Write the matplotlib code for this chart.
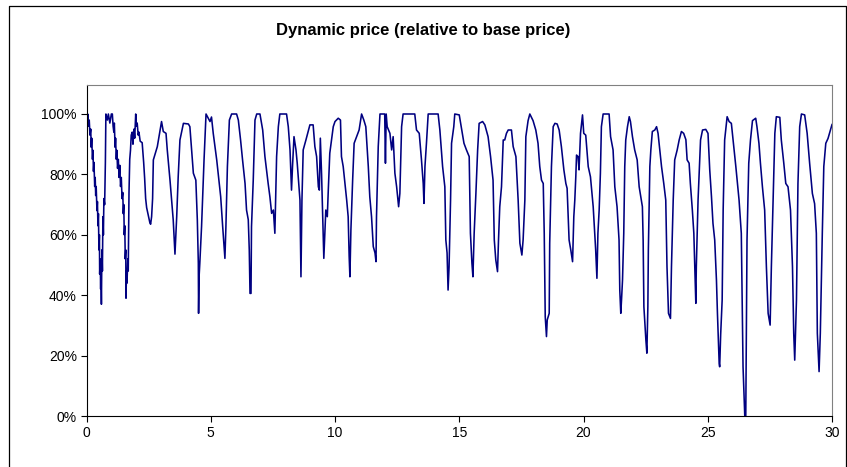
"""Dynamic price relative to base price over 30 days, Excel-style line chart.

Produces out.png in the current directory.
"""

import numpy as np
import matplotlib.pyplot as plt
from matplotlib.ticker import PercentFormatter

plt.rcParams["font.family"] = ["Liberation Sans", "DejaVu Sans"]

# values, in blocks of five days (price in % of base)
days_0_5 = [0.00, 0.03, 0.05, 0.08, 0.11, 0.14, 0.17, 0.19, 0.21, 0.24, 0.26, 0.28,
            0.30, 0.33, 0.35, 0.37, 0.39, 0.42, 0.44, 0.46, 0.48, 0.50, 0.52, 0.53,
            0.55, 0.57, 0.58, 0.60, 0.62, 0.64, 0.66, 0.68, 0.70, 0.73, 0.76, 0.78,
            0.84, 0.88, 0.94, 1.00, 1.04, 1.07, 1.10, 1.12, 1.15, 1.17, 1.20, 1.22,
            1.25, 1.28, 1.31, 1.34, 1.37, 1.40, 1.43, 1.46, 1.48, 1.50, 1.52, 1.54,
            1.56, 1.58, 1.59, 1.61, 1.63, 1.66, 1.68, 1.71, 1.74, 1.77, 1.80, 1.84,
            1.87, 1.91, 1.94, 1.98, 2.01, 2.04, 2.08, 2.11, 2.16, 2.24, 2.30, 2.34,
            2.38, 2.42, 2.51, 2.55, 2.58, 2.62, 2.66, 2.69, 2.85, 3.02, 3.09, 3.20,
            3.25, 3.36, 3.49, 3.56, 3.63, 3.69, 3.76, 3.90, 4.10, 4.16, 4.30, 4.40,
            4.46, 4.50, 4.51, 4.53, 4.56, 4.63, 4.73, 4.81, 4.97]
price_0_5 = [100, 97, 100, 96, 98, 93, 95, 89, 92, 85, 88, 81,
             84, 76, 79, 73, 76, 68, 71, 63, 67, 55, 60, 47,
             52, 42, 48, 37, 55, 48, 66, 60, 72, 70, 84, 100,
             98, 100, 97, 100, 100, 96, 94, 97, 89, 92, 85, 88,
             82, 85, 79, 83, 76, 79, 72, 74, 67, 70, 60, 63,
             52, 55, 39, 48, 44, 52, 48, 74, 85, 88, 93, 94,
             90, 95, 92, 100, 96, 97, 93, 94, 91, 90.5, 84, 78.7,
             72, 69, 65.6, 64, 63.5, 66, 72, 84.8, 89.2, 97.5, 94.2, 93.6,
             88.1, 78.1, 64.9, 53.6, 66, 79.2, 91.4, 96.9, 96.7, 95.8, 80.4, 78.1,
             64.9, 50.6, 34, 46, 50.6, 62.7, 84.8, 100, 97.5]

days_5_10 = [5.03, 5.10, 5.24, 5.40, 5.48, 5.57, 5.61, 5.67, 5.75, 5.84, 6.04, 6.11,
             6.20, 6.28, 6.38, 6.44, 6.51, 6.55, 6.58, 6.62, 6.64, 6.71, 6.78, 6.85,
             6.98, 7.09, 7.18, 7.31, 7.38, 7.45, 7.52, 7.58, 7.65, 7.72, 7.78, 8.05,
             8.12, 8.19, 8.25, 8.29, 8.35, 8.43, 8.48, 8.59, 8.63, 8.67, 8.72, 8.83,
             8.99, 9.12, 9.19, 9.26, 9.33, 9.37, 9.41, 9.46, 9.53, 9.55, 9.63, 9.69,
             9.73, 9.79, 9.86, 9.93]
price_5_10 = [99, 93.6, 84.8, 72.6, 62.7, 52.2, 62.7, 82.6, 98, 100, 100, 98,
              91.4, 84.8, 77, 68.2, 65, 55, 40.6, 40.6, 62.7, 78.1, 98, 100,
              100, 94.7, 85.9, 77, 72.6, 67.1, 68.2, 60.5, 85.9, 95.8, 100, 100,
              95.8, 88.1, 74.8, 82.6, 92.5, 88.1, 83.7, 71.5, 46.1, 71.5, 88.1, 91.4,
              96.4, 96.4, 89.2, 85.9, 75.9, 74.8, 92, 80, 58.3, 52.2, 68.2, 66,
              74.8, 87, 91.4, 95.8]

days_10_15 = [10.00, 10.13, 10.22, 10.26, 10.33, 10.40, 10.47, 10.53, 10.57, 10.60,
              10.64, 10.71, 10.77, 10.87, 10.97, 11.07, 11.16, 11.24, 11.34, 11.40,
              11.47, 11.54, 11.61, 11.65, 11.67, 11.74, 11.81, 12.00, 12.03, 12.06,
              12.10, 12.21, 12.28, 12.34, 12.41, 12.48, 12.56, 12.61, 12.68, 12.74,
              13.21, 13.28, 13.39, 13.48, 13.55, 13.58, 13.62, 13.68, 13.75, 14.15,
              14.22, 14.33, 14.42, 14.46, 14.51, 14.55, 14.59, 14.65, 14.69, 14.78,
              14.82]
price_10_15 = [97.5, 98.6, 98, 85.9, 82.6, 77, 71.5, 66, 52.8, 46.1,
               61.6, 78.1, 90.3, 92.5, 94.7, 100, 98, 95.8, 82.6, 72.6,
               66, 56.1, 54, 51.1, 66, 89.2, 100, 100, 83.7, 100,
               95.8, 93.6, 88.1, 92.5, 80.4, 75.9, 69.3, 73.7, 95.8, 100,
               100, 94.7, 93.6, 84.8, 77, 70.4, 82.6, 90.3, 100, 100,
               94.7, 82.6, 75.9, 58.3, 54, 41.7, 49.4, 71.5, 90.3, 95.8,
               100]

days_15_20 = [15.00, 15.09, 15.19, 15.29, 15.40, 15.45, 15.51, 15.55, 15.60, 15.67,
              15.74, 15.80, 15.94, 16.03, 16.16, 16.26, 16.36, 16.41, 16.47, 16.54,
              16.58, 16.63, 16.70, 16.77, 16.83, 16.90, 16.97, 17.10, 17.17, 17.28,
              17.37, 17.44, 17.52, 17.57, 17.64, 17.68, 17.77, 17.84, 17.97, 18.08,
              18.17, 18.24, 18.31, 18.38, 18.42, 18.46, 18.51, 18.54, 18.62, 18.64,
              18.71, 18.78, 18.85, 18.94, 19.02, 19.11, 19.21, 19.29, 19.34, 19.38,
              19.42, 19.49, 19.56, 19.61, 19.65, 19.69, 19.72, 19.78, 19.82, 19.88,
              19.96]
price_15_20 = [99.7, 95.3, 90.3, 88.1, 85.9, 60.5, 50.6, 46.1, 60.5, 73.7,
               88.1, 96.9, 97.5, 96.4, 92.5, 85.9, 78.1, 58.3, 51.7, 47.8,
               58.3, 69.3, 75.9, 91.4, 91.4, 93.6, 94.7, 94.7, 89.2, 85.9,
               71.5, 57.2, 53.3, 58.3, 71.5, 92.5, 97.8, 100, 97.8, 94.7,
               90.3, 82.6, 78.1, 77, 60.5, 32.9, 26.3, 31.8, 34, 57.2,
               82.6, 95.8, 96.9, 96.7, 94.7, 89.2, 81.5, 77, 75.4, 67.1,
               58.3, 54.9, 51.1, 66, 71.5, 79.2, 86.4, 85.9, 81.5, 93.6,
               99.7]

days_20_25 = [20.01, 20.09, 20.19, 20.28, 20.39, 20.45, 20.49, 20.54, 20.58, 20.63,
              20.68, 20.72, 20.79, 21.03, 21.09, 21.19, 21.26, 21.35, 21.43, 21.46,
              21.50, 21.53, 21.57, 21.62, 21.66, 21.70, 21.77, 21.84, 21.89, 21.97,
              22.06, 22.16, 22.24, 22.37, 22.40, 22.43, 22.51, 22.55, 22.59, 22.61,
              22.67, 22.71, 22.77, 22.87, 22.94, 23.00, 23.14, 23.23, 23.31, 23.36,
              23.42, 23.50, 23.54, 23.61, 23.67, 23.77, 23.85, 23.94, 24.03, 24.12,
              24.17, 24.25, 24.30, 24.38, 24.44, 24.48, 24.52, 24.54, 24.61, 24.65,
              24.71, 24.79, 24.92]
price_20_25 = [93.6, 93, 82.6, 79.2, 69.3, 60.5, 55, 45.6, 60.5, 68.2,
               80.4, 95.8, 100, 100, 92.5, 88.1, 75.9, 69.3, 58.3, 41.7,
               34, 38.4, 45, 60.5, 82.6, 91.4, 95.8, 99.1, 97.5, 92.5,
               88.1, 84.8, 75.9, 69.3, 58.3, 36.2, 25.2, 20.8, 36.2, 55,
               82.6, 88.1, 94.2, 94.7, 95.8, 93.6, 82.6, 77, 71.5, 49.4,
               34, 32.3, 49.4, 71.5, 84.8, 88.1, 91.4, 94.2, 93.6, 91.5,
               84.8, 83.7, 77, 68.2, 60.5, 49.4, 37.3, 49.4, 71.5, 79.2,
               91.4, 94.7, 94.9]

days_25_30 = [25.01, 25.08, 25.15, 25.21, 25.28, 25.35, 25.39, 25.46, 25.48, 25.52,
              25.58, 25.62, 25.68, 25.78, 25.86, 25.95, 26.02, 26.13, 26.26, 26.35,
              26.42, 26.49, 26.53, 26.58, 26.65, 26.72, 26.80, 26.93, 26.98, 27.06,
              27.12, 27.20, 27.29, 27.36, 27.43, 27.51, 27.56, 27.63, 27.70, 27.76,
              27.90, 27.96, 28.06, 28.14, 28.23, 28.33, 28.41, 28.46, 28.50, 28.57,
              28.63, 28.70, 28.77, 28.90, 29.00, 29.10, 29.21, 29.30, 29.37, 29.41,
              29.48, 29.53, 29.61, 29.67, 29.75, 29.84, 30.00]
price_25_30 = [93.6, 81.5, 72.6, 63.8, 58.3, 45, 34, 17.4, 16.3, 27,
               38.4, 68.2, 91.4, 99.1, 97.5, 96.9, 91.4, 82.6, 71.5, 60.5,
               16.3, 0, 0, 58.3, 83.7, 91.4, 97.8, 98.6, 95.8, 90.3,
               83.7, 75.9, 68.2, 49.4, 34, 30.1, 49.4, 71.5, 93.6, 99.1,
               98.9, 91.4, 83.7, 77, 75.9, 68.2, 49.4, 27.4, 18.5, 38.4,
               77, 95.8, 100, 99.7, 93.6, 83.7, 73.7, 70.3, 60.5, 27.4,
               14.7, 27.4, 60.5, 82.6, 90.3, 91.9, 96.5]

x_ticks = [0, 5, 10, 15, 20, 25, 30]
y_ticks = [0.0, 0.2, 0.4, 0.6, 0.8, 1.0]


def main():
    days = np.concatenate([days_0_5, days_5_10, days_10_15,
                           days_15_20, days_20_25, days_25_30])
    price = np.concatenate([price_0_5, price_5_10, price_10_15,
                            price_15_20, price_20_25, price_25_30]) / 100.0

    fig = plt.figure(figsize=(8.47, 4.67), dpi=100)
    ax = fig.add_axes([86.5 / 847, 1 - 416 / 467, (832 - 86.5) / 847, (416 - 85) / 467])

    ax.plot(days, price, color="#000080", lw=1.15)

    ax.set_xlim(0, 30)
    ax.set_ylim(0, (416 - 85) / 302)
    ax.set_xticks(x_ticks)
    ax.set_yticks(y_ticks)
    ax.yaxis.set_major_formatter(PercentFormatter(1.0, decimals=0))
    ax.tick_params(direction="out", length=4, width=0.8, color="black",
                   labelsize=10, pad=3)

    for side in ("top", "right"):
        ax.spines[side].set_color("#808080")
        ax.spines[side].set_linewidth(0.8)
    for side in ("left", "bottom"):
        ax.spines[side].set_color("black")
        ax.spines[side].set_linewidth(0.8)

    fig.text(0.5, 1 - 31 / 467, "Dynamic price (relative to base price)",
             ha="center", va="center", fontsize=12, fontweight="bold")

    # chart area border (left, top, right)
    bx0, bx1, by1 = 8.5 / 847, 845.5 / 847, 1 - 5.5 / 467
    fig.add_artist(plt.Line2D([bx0, bx0, bx1, bx1], [0, by1, by1, 0],
                              color="black", lw=0.9, transform=fig.transFigure))

    fig.savefig("out.png", dpi=100)


if __name__ == "__main__":
    main()
